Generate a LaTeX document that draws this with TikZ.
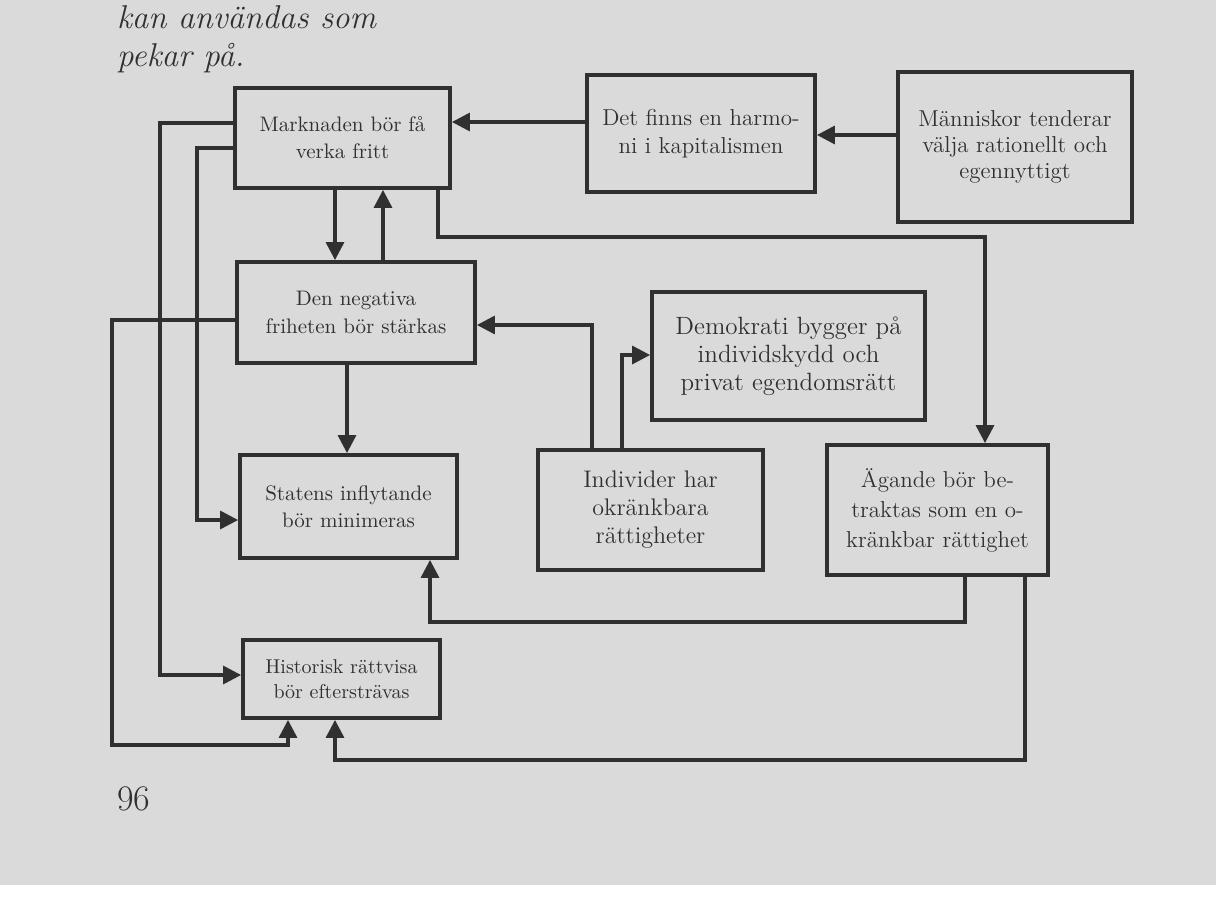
\documentclass[tikz,border=0pt]{standalone}
\usetikzlibrary{arrows.meta}
\definecolor{paper}{RGB}{218,218,218}
\definecolor{ink}{RGB}{48,48,48}

\begin{document}
\begin{tikzpicture}[x=0.5pt, y=-0.5pt,
		blk/.style={draw=ink, line width=1.9pt, text=ink, align=center, inner sep=0pt},
		link/.style={draw=ink, line width=1.6pt, -{Triangle[length=9pt, width=9pt]}}]
			\fill[paper] (0,0) rectangle (1216,910);
			\fill[white] (0,885) rectangle (1216,910);
			\useasboundingbox (0,0) rectangle (1216,910);
			\node[anchor=base west, text=ink, font=\fontsize{16.5}{19}\selectfont\itshape] (kan) at (110,28) {kan användas som};
			\node[anchor=base west, text=ink, font=\fontsize{16.5}{19}\selectfont\itshape] (pekar) at (110,66) {pekar på.};
			\node[anchor=base west, text=ink, font=\fontsize{18}{20}\selectfont] (sida) at (110,810) {96};
			\node[blk, minimum width=107.5pt, minimum height=50pt, font=\fontsize{10.5}{13.5}\selectfont] (M) at (342.5,138) {Marknaden bör få\\verka fritt};
			\node[blk, minimum width=114pt, minimum height=58.5pt, font=\fontsize{11.5}{14}\selectfont] (harm) at (701,133.5) {Det finns en harmo-\\ni i kapitalismen};
			\node[blk, minimum width=117pt, minimum height=75pt, font=\fontsize{11.5}{13}\selectfont] (mann) at (1015,147) {Människor tenderar\\välja rationellt och\\egennyttigt};
			\node[blk, minimum width=119pt, minimum height=50.5pt, font=\fontsize{10.5}{14}\selectfont] (N) at (356,312.5) {Den negativa\\friheten bör stärkas};
			\node[blk, minimum width=136.5pt, minimum height=64pt, font=\fontsize{12.5}{14}\selectfont] (demo) at (788.5,356) {Demokrati bygger på\\individskydd och\\privat egendomsrätt};
			\node[blk, minimum width=108.5pt, minimum height=51.5pt, font=\fontsize{10.5}{13.5}\selectfont] (S) at (348.5,506.5) {Statens inflytande\\bör minimeras};
			\node[blk, minimum width=112.5pt, minimum height=60pt, font=\fontsize{12}{14}\selectfont] (indiv) at (650.5,510) {Individer har\\okränkbara\\rättigheter};
			\node[blk, minimum width=110.5pt, minimum height=65pt, font=\fontsize{11.5}{15}\selectfont] (agande) at (937.5,510) {Ägande bör be-\\traktas som en o-\\kränkbar rättighet};
			\node[blk, minimum width=98.5pt, minimum height=39pt, font=\fontsize{10}{12.5}\selectfont] (H) at (341.5,679) {Historisk rättvisa\\bör eftersträvas};
			\draw[link] (mann.west |- 0,135) -- (harm.east |- 0,135);
			\draw[link] (harm.west |- 0,122) -- (M.east |- 0,122);
			\draw[link] (M.south -| 335,0) -- (N.north -| 335,0);
			\draw[link] (N.north -| 383,0) -- (M.south -| 383,0);
			\draw[link] (M.south -| 438,0) -- ++(0,47) -| (agande.north -| 985,0);
			\draw[link] (M.west |- 0,123) -| (160,675) -- (H.west |- 0,675);
			\draw[link] (M.west |- 0,148) -| (197,520) -- (S.west |- 0,520);
			\draw[link] (N.west |- 0,320) -| (112,745) -| (H.south -| 288,0);
			\draw[link] (N.south -| 347,0) -- (S.north -| 347,0);
			\draw[link] (indiv.north -| 592,0) |- (N.east |- 0,325);
			\draw[link] (indiv.north -| 622,0) |- (demo.west |- 0,355);
			\draw[link] (agande.south -| 965,0) -- ++(0,45) -| (S.south -| 430,0);
			\draw[link] (agande.south -| 1025,0) -- (1025,760) -| (H.south -| 335,0);
		\end{tikzpicture}
\end{document}
